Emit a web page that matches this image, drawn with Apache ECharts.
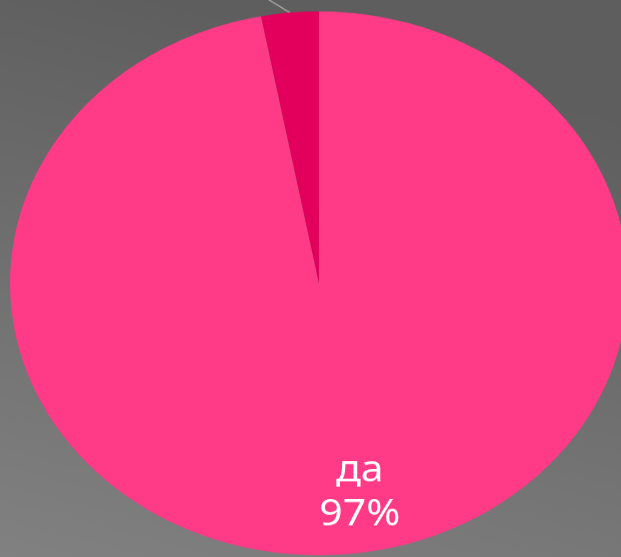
<!DOCTYPE html>
<html>
<head>
<meta charset="utf-8">
<script src="https://cdn.jsdelivr.net/npm/echarts@6/dist/echarts.min.js"></script>
<style>
  html, body { margin: 0; padding: 0; overflow: hidden; background: #6e6e6e; }
  #main {
    width: 621px;
    height: 633px;
    transform: scaleY(0.88);
    transform-origin: 0 0;
  }
</style>
</head>
<body>
<div id="main"></div>
<script>
// answers and shares, %
var names = ['да', 'нет'];
var values = [97, 3];
var colors = ['#FF3A87', '#E2005C'];

var chartDom = document.getElementById('main');
var myChart = echarts.init(chartDom);

// main pie: only the "да" label inside
var pieData = names.map(function (n, i) {
    return {
        name: n,
        value: values[i],
        itemStyle: { color: colors[i] },
        label: { show: i === 0 },
        labelLine: { show: false }
    };
});

// under-layer: invisible slices, carries the "нет" label + leader line (hidden under the pie)
var guideData = names.map(function (n, i) {
    return {
        name: n,
        value: values[i],
        label: { show: i === 1 },
        labelLine: { show: i === 1 }
    };
});

var option = {
    backgroundColor: {
        type: 'linear', x: 0.3, y: 0, x2: 0, y2: 1,
        colorStops: [
            { offset: 0, color: '#5e5e5e' },
            { offset: 1, color: '#818181' }
        ]
    },
    series: [
        {
            type: 'pie',
            z: 1,
            center: [319, 322],
            radius: [0, 309],
            startAngle: 90,
            silent: true,
            avoidLabelOverlap: false,
            itemStyle: { opacity: 0 },
            label: {
                position: 'outside',
                formatter: '{b}\n{c}%',
                color: '#ffffff',
                fontFamily: 'Noto Sans',
                fontSize: 41,
                lineHeight: 50
            },
            labelLine: {
                length: 30,
                length2: 30,
                lineStyle: { color: '#a3a3a3', width: 1.5 }
            },
            labelLayout: function (params) {
                return { x: 110, y: -90 };
            },
            data: guideData
        },
        {
            type: 'pie',
            z: 2,
            center: [319, 322],
            radius: [0, 309],
            startAngle: 90,
            clockwise: true,
            silent: true,
            avoidLabelOverlap: false,
            itemStyle: { borderWidth: 0 },
            label: {
                position: 'inside',
                formatter: '{b}\n{c}%',
                color: '#ffffff',
                fontFamily: 'Noto Sans',
                fontSize: 41,
                lineHeight: 50
            },
            labelLayout: function (params) {
                return { dx: 26, dy: 82 };
            },
            data: pieData
        }
    ]
};

option && myChart.setOption(option);
</script>
</body>
</html>
